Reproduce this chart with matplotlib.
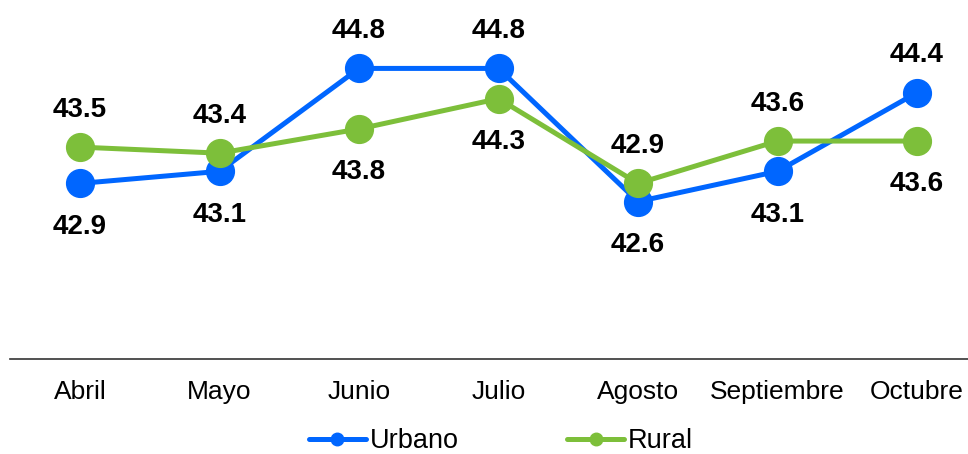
import matplotlib
matplotlib.use("Agg")
import matplotlib.pyplot as plt

months = ["Abril", "Mayo", "Junio", "Julio", "Agosto", "Septiembre", "Octubre"]
urbano = [42.9, 43.1, 44.8, 44.8, 42.6, 43.1, 44.4]
rural = [43.5, 43.4, 43.8, 44.3, 42.9, 43.6, 43.6]

BLUE = "#0066FF"
GREEN = "#7DBF3A"

plt.rcParams['font.family'] = ['Liberation Sans', 'DejaVu Sans']

fig = plt.figure(figsize=(9.68, 4.54), dpi=100)
ax = fig.add_axes([10.25 / 968, 0.2093, 976.5 / 968, 0.80])

x = list(range(len(months)))
ax.plot(x, urbano, color=BLUE, lw=3.6, marker='o', ms=20, label="Urbano", solid_capstyle='round')
ax.plot(x, rural, color=GREEN, lw=3.6, marker='o', ms=20, label="Rural", solid_capstyle='round')

for i, (u, r) in enumerate(zip(urbano, rural)):
    u_up = u > r
    ax.annotate(f"{u:.1f}", (i, u), xytext=(0, 29 if u_up else -29), textcoords='offset points',
                ha='center', va='center_baseline', fontsize=20, fontweight='bold', color='black')
    ax.annotate(f"{r:.1f}", (i, r), xytext=(0, -29 if u_up else 29), textcoords='offset points',
                ha='center', va='center_baseline', fontsize=20, fontweight='bold', color='black')

ax.set_xlim(-0.5, 6.5)
ax.set_ylim(40, 46)
ax.set_xticks(x)
ax.set_xticklabels(months, fontsize=19)
ax.tick_params(axis='x', length=0, pad=15)
ax.set_yticks([])
for s in ['top', 'right', 'left']:
    ax.spines[s].set_visible(False)
ax.spines['bottom'].set_color('#333333')
ax.spines['bottom'].set_linewidth(1.2)

handles, labels = ax.get_legend_handles_labels()
leg = fig.legend(handles, labels, loc='center', bbox_to_anchor=(501 / 968, 13 / 454), ncol=2,
                 frameon=False, fontsize=19.5, handlelength=2.1, handletextpad=0.15,
                 columnspacing=4.0, markerscale=0.45, borderaxespad=0, borderpad=0)

fig.savefig("out.png", dpi=100)
